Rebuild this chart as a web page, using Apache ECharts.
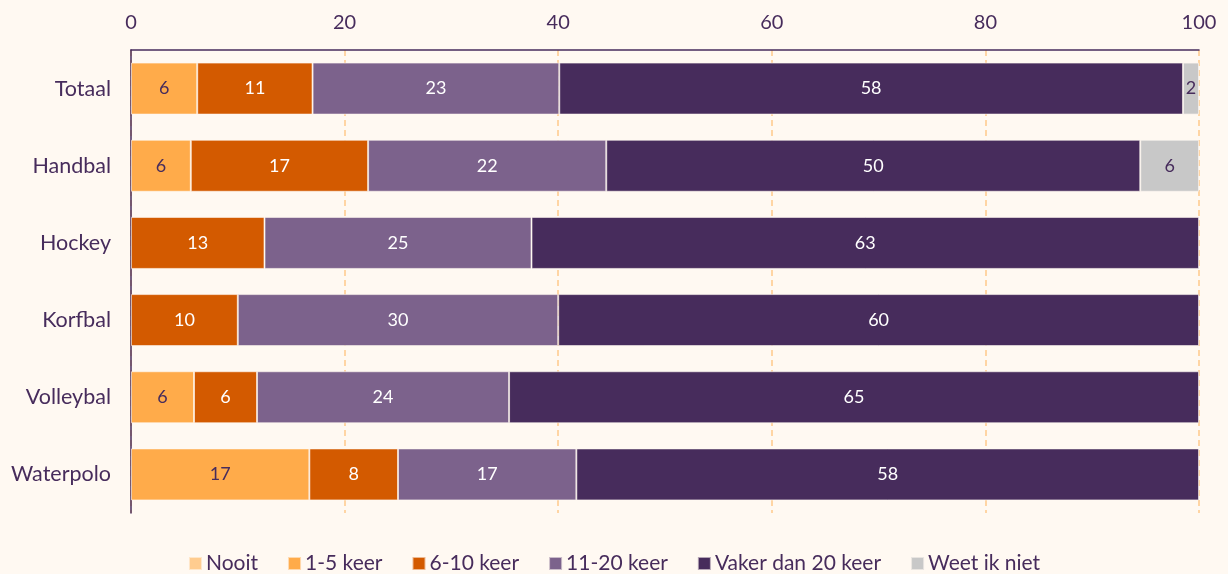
<!DOCTYPE html>
<html><head><meta charset="utf-8">
<script src="https://cdn.jsdelivr.net/npm/echarts@6/dist/echarts.min.js"></script>
<style>html,body{margin:0;padding:0;background:#fff9f2;}#c{width:1228px;height:574px;}</style>
</head><body><div id="c"></div>
<script>
const categories = ['Totaal','Handbal','Hockey','Korfbal','Volleybal','Waterpolo'];
const seriesNames = ['Nooit','1-5 keer','6-10 keer','11-20 keer','Vaker dan 20 keer','Weet ik niet'];
const nooit    = [null, null, null, null, null, null];
const keer1_5  = [6.2, 5.6, null, null, 5.9, 16.7];
const keer6_10 = [10.8, 16.6, 12.5, 10.0, 5.9, 8.3];
const keer11_20= [23.1, 22.3, 25.0, 30.0, 23.6, 16.7];
const vaker20  = [58.4, 50.0, 62.5, 60.0, 64.6, 58.3];
const weetNiet = [1.5, 5.5, null, null, null, null];
const xTicks = [0, 20, 40, 60, 80, 100];

const colors = ['#ffcc8f','#ffab4a','#d35a00','#7c628c','#472c5c','#c8c8c8'];
const labelColors = ['#472c5c','#472c5c','#ffffff','#ffffff','#ffffff','#472c5c'];
const dataSets = [nooit, keer1_5, keer6_10, keer11_20, vaker20, weetNiet];

const chart = echarts.init(document.getElementById('c'));
chart.setOption({
  backgroundColor: '#fff9f2',
  textStyle: {fontFamily: 'Lato'},
  grid: {left: 131, right: 29, top: 50, bottom: 61},
  legend: {
    bottom: -5, left: 'center', itemWidth: 13, itemHeight: 13, itemGap: 29,
    icon: 'rect',
    textStyle: {color: '#472c5c', fontSize: 21, fontFamily: 'Lato', padding: [0,0,0,-1]},
    data: seriesNames
  },
  xAxis: {
    type: 'value', position: 'top', min: 0, max: 100, interval: 20,
    axisLine: {show: true, lineStyle: {color: '#472c5c', width: 1.5}},
    axisTick: {show: false},
    axisLabel: {color: '#472c5c', fontSize: 20, margin: 17,
      formatter: v => xTicks.includes(v) ? String(v) : ''},
    splitLine: {show: true, lineStyle: {color: '#ffc98a', type: [6,4], width: 1.5}}
  },
  yAxis: {
    type: 'category', inverse: true, data: categories,
    axisLine: {show: true, lineStyle: {color: '#472c5c', width: 1.5}},
    axisTick: {show: false},
    axisLabel: {color: '#472c5c', fontSize: 21.5, margin: 20}
  },
  series: dataSets.map((d, i) => ({
    name: seriesNames[i], type: 'bar', stack: 'total', data: d,
    barWidth: 52,
    itemStyle: {color: colors[i], borderColor: 'rgba(255,249,242,0.6)', borderWidth: 1},
    label: {show: true, position: 'inside', color: labelColors[i], fontSize: 18,
      formatter: p => p.value == null ? '' : String(Math.round(p.value))},
    emphasis: {disabled: true}
  }))
});
</script></body></html>
